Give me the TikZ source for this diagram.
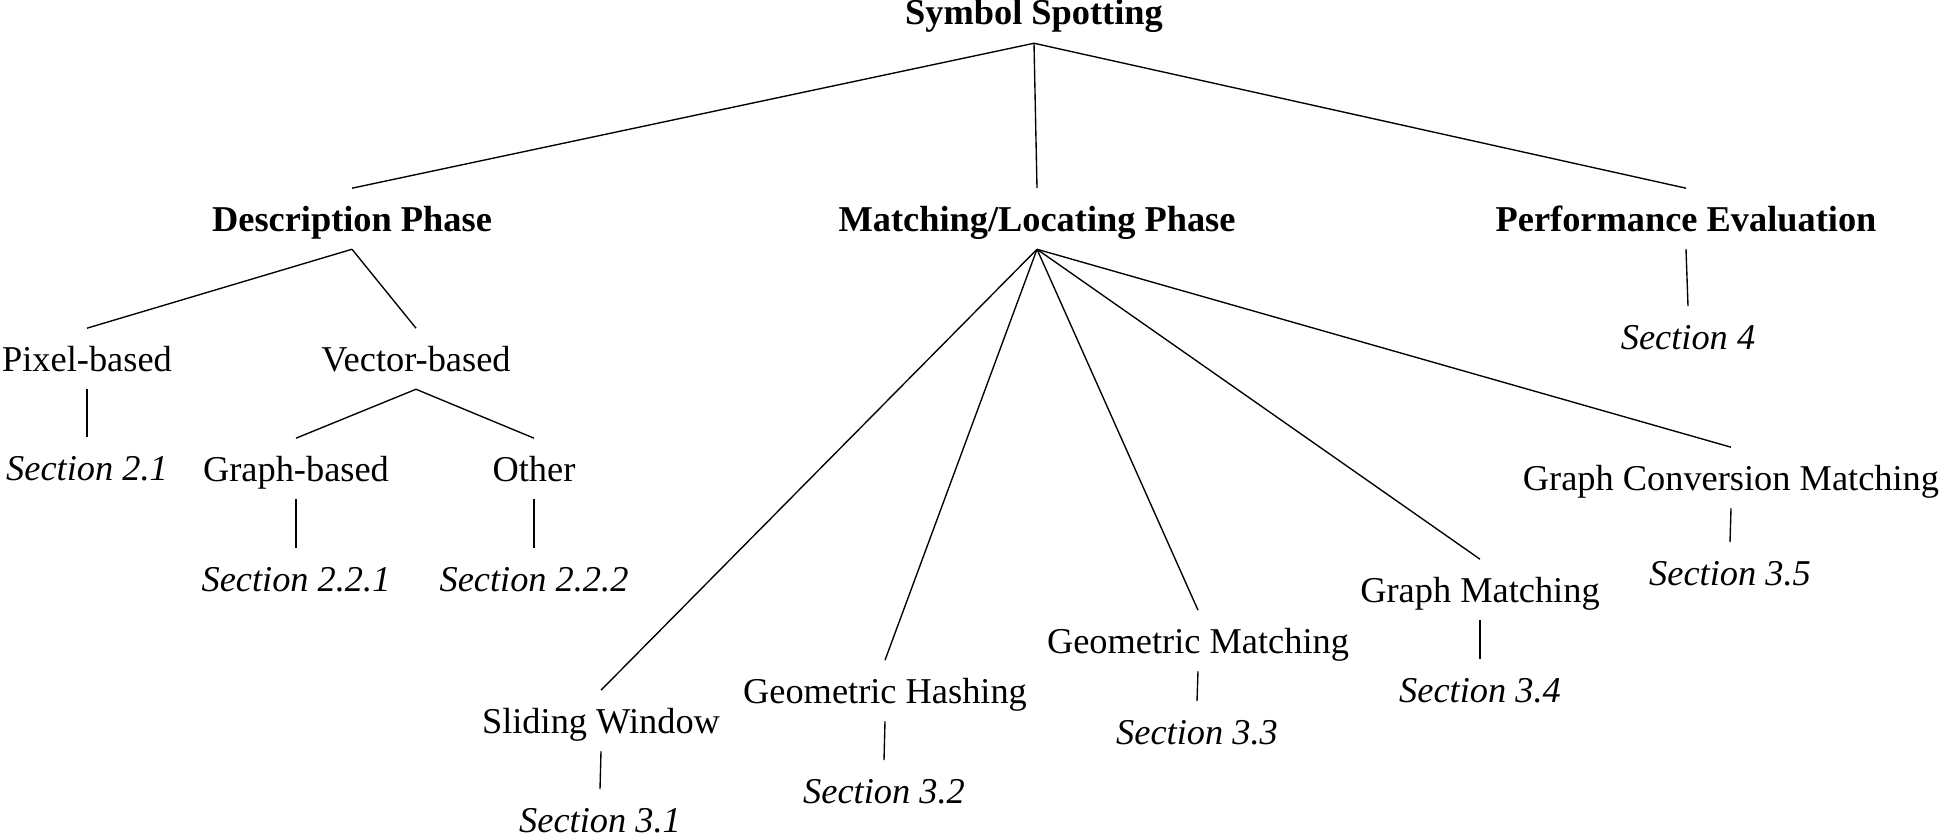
\documentclass[tikz,border=0pt]{standalone}
\usepackage{fontspec}
\setmainfont{Liberation Serif}

\begin{document}
\begin{tikzpicture}[x=0.33pt, y=-0.33pt, line width=0.45pt,
  every node/.style={anchor=base, inner sep=0pt, text height=13.9pt, text depth=5.8pt, font=\fontsize{12pt}{14pt}\selectfont},
  phase/.style={font=\fontsize{12pt}{14pt}\selectfont\bfseries},
  sect/.style={text depth=0pt, font=\fontsize{12pt}{14pt}\selectfont\itshape}]
\useasboundingbox (0,0) rectangle (1942,836);
\node[phase] (SS) at (1034,25) {Symbol Spotting};
\node[phase] (DP) at (352,231) {Description Phase};
\node[phase] (MP) at (1037,231) {Matching/Locating Phase};
\node[phase] (PE) at (1686,231) {Performance Evaluation};
\node (Pix) at (87,371) {Pixel-based};
\node (Vec) at (416,371) {Vector-based};
\node[sect] (S21) at (87,480) {Section 2.1};
\node (Gra) at (296,481) {Graph-based};
\node (Oth) at (534,481) {Other};
\node[sect] (S221) at (296,591) {Section 2.2.1};
\node[sect] (S222) at (534,591) {Section 2.2.2};
\node[sect] (S4) at (1688,349) {Section 4};
\node (SW) at (601,733) {Sliding Window};
\node[sect] (S31) at (600,832) {Section 3.1};
\node (GH) at (885,703) {Geometric Hashing};
\node[sect] (S32) at (884,803) {Section 3.2};
\node (GM) at (1198,653) {Geometric Matching};
\node[sect] (S33) at (1197,744) {Section 3.3};
\node (GrM) at (1480,602) {Graph Matching};
\node[sect] (S34) at (1480,702) {Section 3.4};
\node (GCM) at (1731,490) {Graph Conversion Matching};
\node[sect] (S35) at (1730,585) {Section 3.5};
\draw (SS.south) -- (DP.north);
\draw (SS.south) -- (MP.north);
\draw (SS.south) -- (PE.north);
\draw (DP.south) -- (Pix.north);
\draw (DP.south) -- (Vec.north);
\draw (Pix.south) -- (S21.north);
\draw (Vec.south) -- (Gra.north);
\draw (Vec.south) -- (Oth.north);
\draw (Gra.south) -- (S221.north);
\draw (Oth.south) -- (S222.north);
\draw (PE.south) -- (S4.north);
\draw (MP.south) -- (SW.north);
\draw (MP.south) -- (GH.north);
\draw (MP.south) -- (GM.north);
\draw (MP.south) -- (GrM.north);
\draw (MP.south) -- (GCM.north);
\draw (SW.south) -- (S31.north);
\draw (GH.south) -- (S32.north);
\draw (GM.south) -- (S33.north);
\draw (GrM.south) -- (S34.north);
\draw (GCM.south) -- (S35.north);
\end{tikzpicture}
\end{document}
